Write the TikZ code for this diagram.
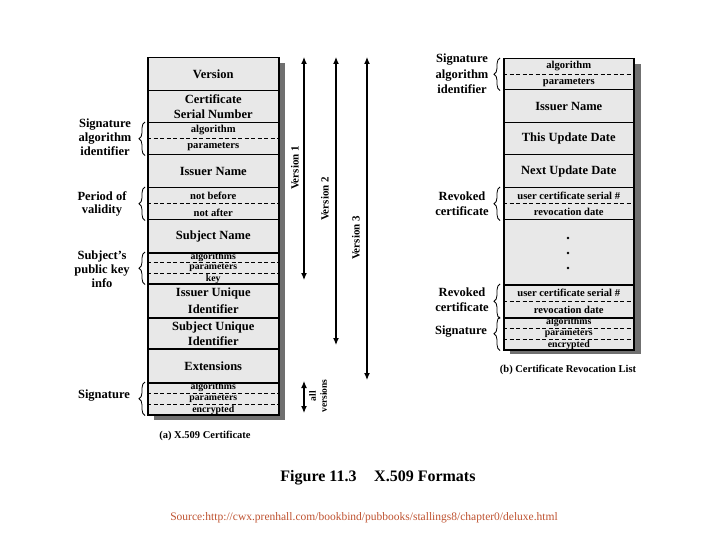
\documentclass[tikz,border=0pt]{standalone}
\usepackage{fontspec}
\setmainfont{Liberation Serif}
\usetikzlibrary{decorations.pathreplacing,arrows.meta,calc}
\definecolor{cellgray}{RGB}{232,232,232}
\definecolor{shadowgray}{RGB}{112,112,112}
\definecolor{srccolor}{RGB}{190,82,48}
\newcommand{\myfs}[2]{\fontsize{#1}{#2}\selectfont}
\begin{document}
\begin{tikzpicture}[x=1pt,y=-1pt,
  cellL/.style={draw, line width=1.5pt, fill=cellgray, anchor=north west, minimum width=131pt, inner sep=0pt, align=center, font=\bfseries\myfs{12.5}{15}},
  cellR/.style={cellL, minimum width=130pt},
  sub/.style={inner sep=0pt, font=\bfseries\myfs{10.6}{12}},
  subs/.style={inner sep=0pt, font=\bfseries\myfs{9.8}{11}},
  dashln/.style={line width=0.8pt, dash pattern=on 4pt off 2.5pt},
  lbl/.style={align=center, inner sep=0pt, font=\bfseries\myfs{12.5}{13.8}},
  brc/.style={decorate, decoration={brace, amplitude=6pt}, line width=0.8pt},
  varrow/.style={line width=1.2pt, {Latex[length=7pt,width=6pt]}-{Latex[length=7pt,width=6pt]}},
  vlbl/.style={rotate=90, inner sep=0pt, font=\bfseries\myfs{11}{12}},
  captxt/.style={inner sep=0pt, font=\bfseries\myfs{10.5}{11}}
]
\useasboundingbox (0,0) rectangle (720,540);

% shadows
\fill[shadowgray] (154,63) rectangle (285,420);
\fill[shadowgray] (510,64) rectangle (641,354);

% ---------- (a) X.509 Certificate ----------
\node[cellL, minimum height=33pt] (ver) at (147,57) {Version};
\node[cellL, minimum height=32pt] (csn) at (147,90) {Certificate\\Serial Number};
\node[cellL, minimum height=32pt] (sa) at (147,122) {};
\node[cellL, minimum height=33pt] (iss) at (147,154) {Issuer Name};
\node[cellL, minimum height=32pt] (val) at (147,187) {};
\node[cellL, minimum height=33pt] (subj) at (147,219) {Subject Name};
\node[cellL, minimum height=31pt] (pk) at (147,252) {};
\node[cellL, minimum height=34pt, font=\bfseries\myfs{12.5}{16.5}] (iui) at (147,283) {Issuer Unique\\Identifier};
\node[cellL, minimum height=31pt] (sui) at (147,317) {Subject Unique\\Identifier};
\node[cellL, minimum height=34pt] (ext) at (147,348) {Extensions};
\node[cellL, minimum height=32pt] (sig) at (147,382) {};

\draw[dashln] (sa.west) -- (sa.east);
\draw[dashln] (val.west) -- (val.east);
\draw[dashln] ($(pk.north west)!1/3!(pk.south west)$) -- ($(pk.north east)!1/3!(pk.south east)$);
\draw[dashln] ($(pk.north west)!2/3!(pk.south west)$) -- ($(pk.north east)!2/3!(pk.south east)$);
\draw[dashln] ($(sig.north west)!1/3!(sig.south west)$) -- ($(sig.north east)!1/3!(sig.south east)$);
\draw[dashln] ($(sig.north west)!2/3!(sig.south west)$) -- ($(sig.north east)!2/3!(sig.south east)$);

\node[sub] (saA) at ($(sa.north)!0.25!(sa.south)$) {algorithm};
\node[sub] (saP) at ($(sa.north)!0.75!(sa.south)$) {parameters};
\node[sub] (valB) at ($(val.north)!0.27!(val.south)$) {not before};
\node[sub] (valA) at ($(val.north)!0.77!(val.south)$) {not after};
\node[subs] (pkA) at ($(pk.north)!1/6!(pk.south)$) {algorithms};
\node[subs] (pkP) at ($(pk.north)!3/6!(pk.south)$) {parameters};
\node[subs] (pkK) at ($(pk.north)!5/6!(pk.south)$) {key};
\node[subs] (sigA) at ($(sig.north)!1/6!(sig.south)$) {algorithms};
\node[subs] (sigP) at ($(sig.north)!3/6!(sig.south)$) {parameters};
\node[subs] (sigE) at ($(sig.north)!5/6!(sig.south)$) {encrypted};

% left labels and braces
\node[lbl] (lsa) at (105,137) {Signature\\algorithm\\identifier};
\node[lbl] (lval) at (102,204) {Period of\\validity};
\node[lbl] (lpk) at (102,269) {Subject's\\public key\\info};
\node[lbl] (lsig) at (104,396) {Signature};
\draw[brc] ([xshift=-2pt]sa.south west) -- ([xshift=-2pt]sa.north west);
\draw[brc] ([xshift=-2pt]val.south west) -- ([xshift=-2pt]val.north west);
\draw[brc] ([xshift=-2pt]pk.south west) -- ([xshift=-2pt]pk.north west);
\draw[brc] ([xshift=-2pt]sig.south west) -- ([xshift=-2pt]sig.north west);

\node[captxt] (capa) at (205,436) {(a) X.509 Certificate};

% version arrows
\coordinate (v1t) at (304,57);  \coordinate (v1b) at (304,280);
\coordinate (v2t) at (336,57);  \coordinate (v2b) at (336,345);
\coordinate (v3t) at (367,57);  \coordinate (v3b) at (367,380);
\coordinate (avt) at (304,381); \coordinate (avb) at (304,413);
\draw[varrow] (v1t) -- (v1b);
\draw[varrow] (v2t) -- (v2b);
\draw[varrow] (v3t) -- (v3b);
\draw[varrow] (avt) -- (avb);
\node[vlbl] (lv1) at (295,168) {Version 1};
\node[vlbl] (lv2) at (325,199) {Version 2};
\node[vlbl] (lv3) at (356,238) {Version 3};
\node[vlbl, align=center, font=\bfseries\myfs{9.5}{11}] (lav) at (318,396) {all\\versions};

% ---------- (b) Certificate Revocation List ----------
\node[cellR, minimum height=31pt] (rsa) at (503,58) {};
\node[cellR, minimum height=33pt] (riss) at (503,89) {Issuer Name};
\node[cellR, minimum height=32pt] (tud) at (503,122) {This Update Date};
\node[cellR, minimum height=33pt] (nud) at (503,154) {Next Update Date};
\node[cellR, minimum height=32pt] (rc1) at (503,187) {};
\node[cellR, minimum height=65pt] (dots) at (503,219) {};
\node[cellR, minimum height=33pt] (rc2) at (503,284) {};
\node[cellR, minimum height=32pt] (rsig) at (503,317) {};

\draw[dashln] (rsa.west) -- (rsa.east);
\draw[dashln] (rc1.west) -- (rc1.east);
\draw[dashln] (rc2.west) -- (rc2.east);
\draw[dashln] ($(rsig.north west)!1/3!(rsig.south west)$) -- ($(rsig.north east)!1/3!(rsig.south east)$);
\draw[dashln] ($(rsig.north west)!2/3!(rsig.south west)$) -- ($(rsig.north east)!2/3!(rsig.south east)$);

\node[sub] (rsaA) at ($(rsa.north)!0.25!(rsa.south)$) {algorithm};
\node[sub] (rsaP) at ($(rsa.north)!0.75!(rsa.south)$) {parameters};
\node[sub] (rc1U) at ($(rc1.north)!0.25!(rc1.south)$) {user certificate serial \#};
\node[sub] (rc1R) at ($(rc1.north)!0.75!(rc1.south)$) {revocation date};
\node[sub] (rc2U) at ($(rc2.north)!0.25!(rc2.south)$) {user certificate serial \#};
\node[sub] (rc2R) at ($(rc2.north)!0.75!(rc2.south)$) {revocation date};
\node[subs] (rsigA) at ($(rsig.north)!1/6!(rsig.south)$) {algorithms};
\node[subs] (rsigP) at ($(rsig.north)!3/6!(rsig.south)$) {parameters};
\node[subs] (rsigE) at ($(rsig.north)!5/6!(rsig.south)$) {encrypted};

\fill (568,238) circle (1.4pt);
\fill (568,253) circle (1.4pt);
\fill (568,268) circle (1.4pt);

% right labels and braces
\node[lbl, font=\bfseries\myfs{12.5}{15.5}] (rlsa) at (462,74) {Signature\\algorithm\\identifier};
\node[lbl, font=\bfseries\myfs{12.5}{15}] (rlrc1) at (462,204) {Revoked\\certificate};
\node[lbl, font=\bfseries\myfs{12.5}{15}] (rlrc2) at (462,300) {Revoked\\certificate};
\node[lbl] (rlsig) at (461,332) {Signature};
\draw[brc] ([xshift=-3pt]rsa.south west) -- ([xshift=-3pt]rsa.north west);
\draw[brc] ([xshift=-3pt]rc1.south west) -- ([xshift=-3pt]rc1.north west);
\draw[brc] ([xshift=-3pt]rc2.south west) -- ([xshift=-3pt]rc2.north west);
\draw[brc] ([xshift=-3pt]rsig.south west) -- ([xshift=-3pt]rsig.north west);

\node[captxt] (capb) at (568,370) {(b) Certificate Revocation List};

% title and source
\node[inner sep=0pt, font=\bfseries\myfs{16}{16}] (title) at (378,478) {Figure 11.3\hspace{1.1em}X.509 Formats};
\node[inner sep=0pt, text=srccolor, font=\myfs{11.5}{12}] (src) at (364,518) {Source:http://cwx.prenhall.com/bookbind/pubbooks/stallings8/chapter0/deluxe.html};
\end{tikzpicture}
\end{document}
